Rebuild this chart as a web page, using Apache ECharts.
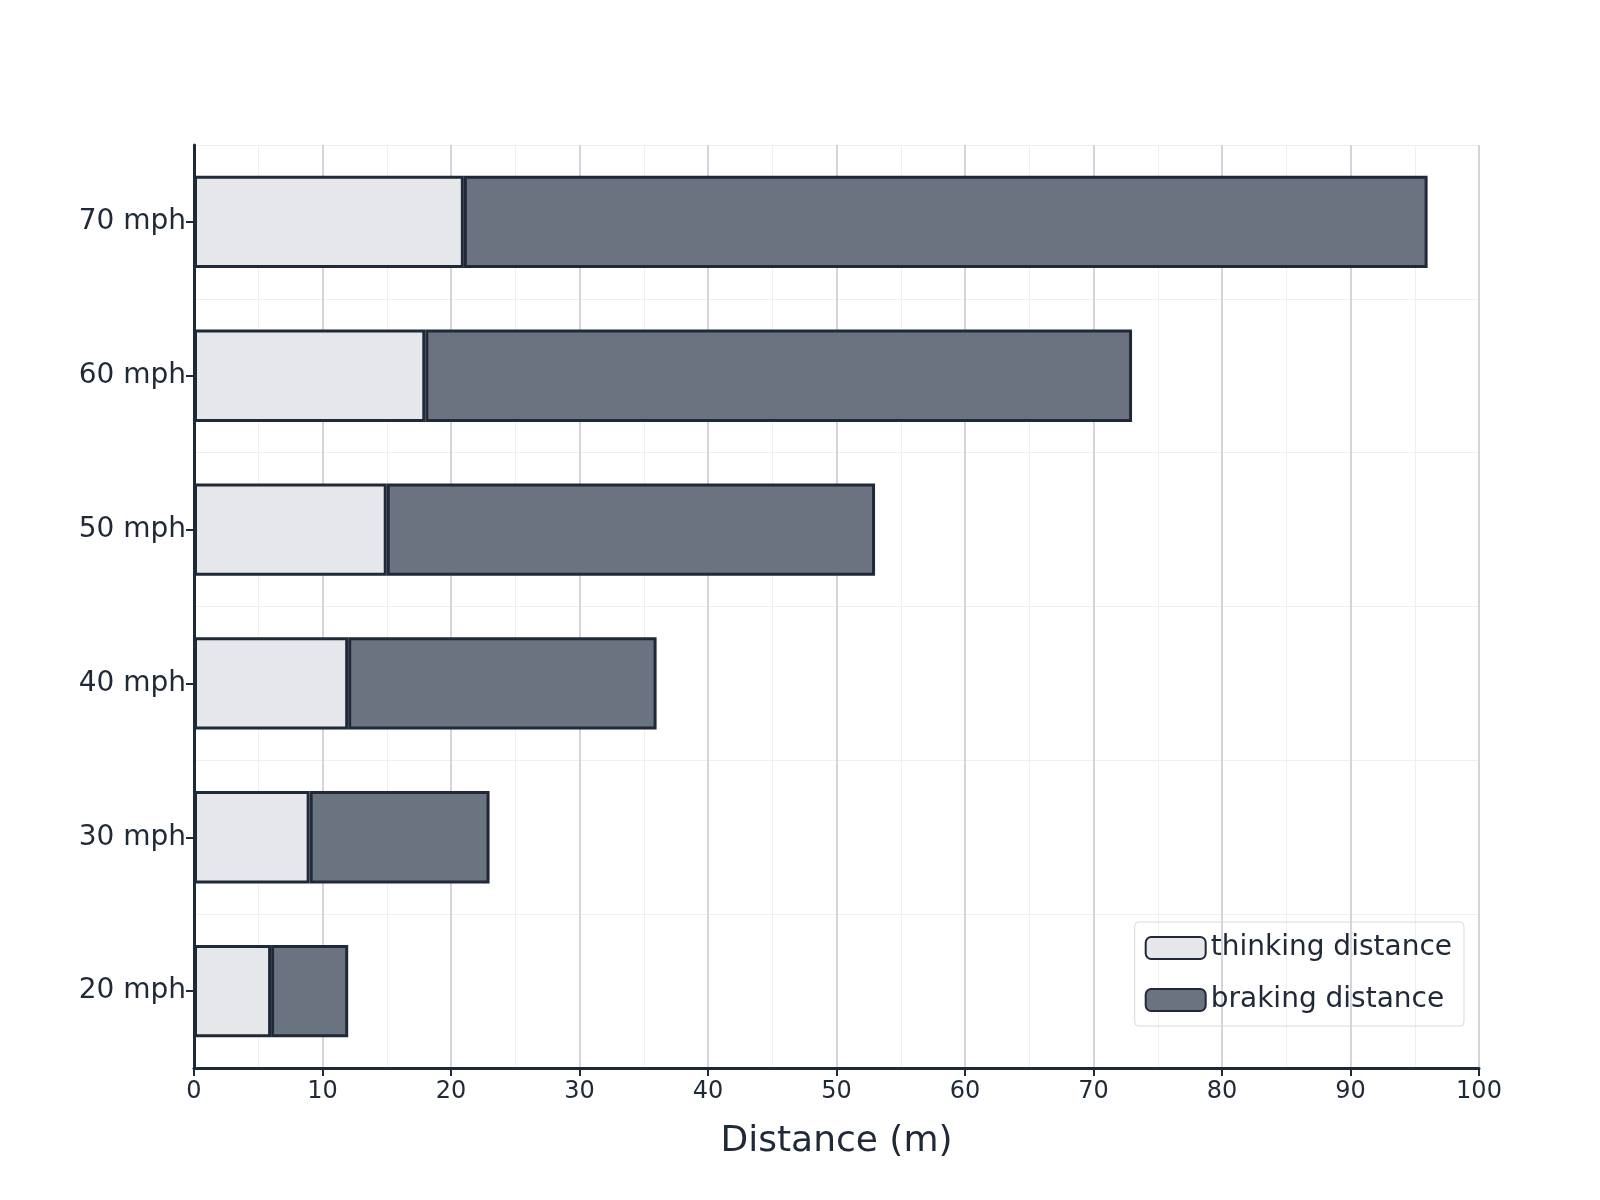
<!DOCTYPE html>
<html><head><meta charset="utf-8">
<script src="https://cdn.jsdelivr.net/npm/echarts@6/dist/echarts.min.js"></script>
<style>html,body{margin:0;background:#fff}#c{width:1600px;height:1200px}</style>
</head><body><div id="c"></div>
<script>
const categories = ['20 mph','30 mph','40 mph','50 mph','60 mph','70 mph'];
const thinking = [6, 9, 12, 15, 18, 21];
const braking = [6, 14, 24, 38, 55, 75];
const xTicks = [0,10,20,30,40,50,60,70,80,90,100];
const dark = '#1f2937';
const chart = echarts.init(document.getElementById('c'));
chart.setOption({
  animation:false,
  textStyle:{fontFamily:'DejaVu Sans'},
  grid:{left:194,right:121,top:145,bottom:132},
  legend:{
    right:136,bottom:174,orient:'vertical',itemWidth:60,itemHeight:22,itemGap:24,
    padding:[12,12,12,10],
    borderColor:'#d9d9d9',borderWidth:1,borderRadius:4,
    textStyle:{fontSize:28,color:dark,fontFamily:'DejaVu Sans'},
    data:['thinking distance','braking distance']
  },
  xAxis:{
    type:'value',min:xTicks[0],max:xTicks[xTicks.length-1],interval:10,
    name:'Distance (m)',nameLocation:'middle',nameGap:56,
    nameTextStyle:{fontSize:36,color:dark},
    axisLine:{show:true,lineStyle:{color:dark,width:3}},
    axisTick:{show:true,length:8,lineStyle:{color:dark,width:2}},
    axisLabel:{fontSize:24,color:dark,margin:12},
    splitLine:{show:true,lineStyle:{color:'#d4d4dc',width:2}},
    minorTick:{show:false,splitNumber:2},
    minorSplitLine:{show:true,lineStyle:{color:'#efeff3',width:1}}
  },
  yAxis:{
    type:'category',data:categories,
    axisLine:{show:true,lineStyle:{color:dark,width:3}},
    axisTick:{show:true,alignWithLabel:true,length:8,lineStyle:{color:dark,width:2}},
    axisLabel:{fontSize:28,color:dark,margin:8},
    splitLine:{show:true,lineStyle:{color:'#efeff3',width:1}}
  },
  series:[
    {name:'thinking distance',type:'bar',stack:'t',data:thinking,barWidth:'60%',
     itemStyle:{color:'#e5e7eb',borderColor:dark,borderWidth:3}},
    {name:'braking distance',type:'bar',stack:'t',data:braking,barWidth:'60%',
     itemStyle:{color:'#6b7280',borderColor:dark,borderWidth:3}}
  ]
});
</script></body></html>
